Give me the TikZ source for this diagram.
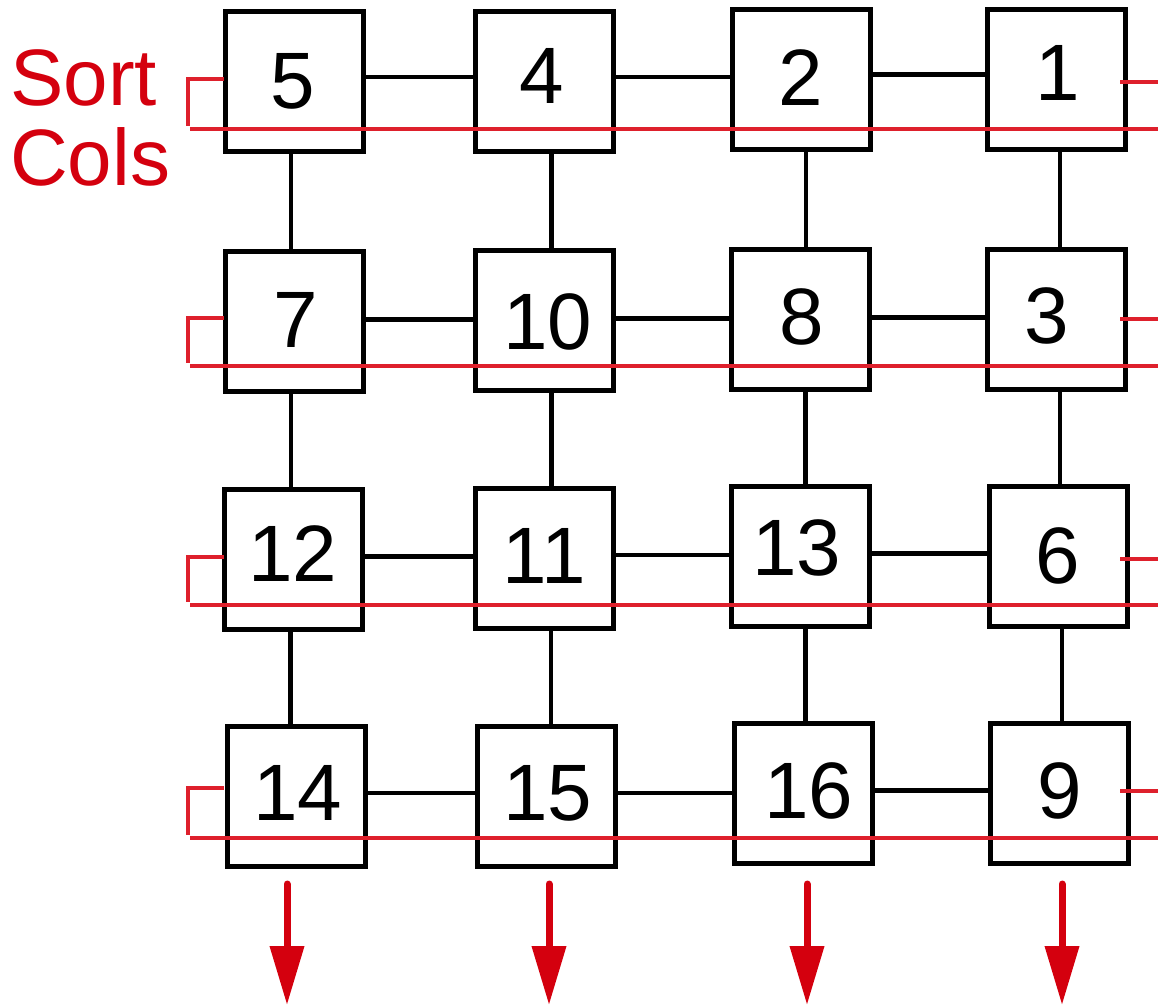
\documentclass[tikz,border=0pt]{standalone}
\usepackage{fontspec}
\setmainfont{Liberation Sans}
\usetikzlibrary{arrows.meta}
\definecolor{txtred}{RGB}{212,0,14}
\definecolor{wirered}{RGB}{222,32,44}
\begin{document}
\begin{tikzpicture}[x=1pt,y=-1pt,
  cell/.style={draw=black, line width=5pt, minimum width=138pt, minimum height=140pt, inner sep=0pt},
  num/.style={inner sep=0pt, font=\fontsize{80}{80}\selectfont},
  link/.style={draw=black, line width=4.5pt},
  snake/.style={draw=wirered, line width=3.3pt},
  outarrow/.style={draw=txtred, line width=7pt, line cap=round, -{Triangle[width=33pt,length=59pt]}},
  lbl/.style={inner sep=0pt, anchor=base west, text=txtred, font=\fontsize{80}{80}\selectfont}]
\useasboundingbox (0,0) rectangle (1158,1007);

% boxes
\node[cell] (b11) at (294,81.5) {};
\node[cell] (b12) at (544.5,81.5) {};
\node[cell] (b13) at (801,79) {};
\node[cell] (b14) at (1056,79.5) {};
\node[cell] (b21) at (294,321.5) {};
\node[cell] (b22) at (544.5,320.5) {};
\node[cell] (b23) at (800.5,319.5) {};
\node[cell] (b24) at (1056,319) {};
\node[cell] (b31) at (293.5,559.5) {};
\node[cell] (b32) at (544,558) {};
\node[cell] (b33) at (800.5,556.5) {};
\node[cell] (b34) at (1058,556) {};
\node[cell] (b41) at (296.5,796) {};
\node[cell] (b42) at (546,796) {};
\node[cell] (b43) at (803.5,793.5) {};
\node[cell] (b44) at (1059.5,793.5) {};

% numbers
\node[num] (t11) at (292.5,81.5) {5};
\node[num] (t12) at (541.5,76) {4};
\node[num] (t13) at (801,78) {2};
\node[num] (t14) at (1058,73) {1};
\node[num] (t21) at (296,320) {7};
\node[num] (t22) at (548,322) {10};
\node[num] (t23) at (802,317) {8};
\node[num] (t24) at (1047,316) {3};
\node[num] (t31) at (292.5,553.5) {12};
\node[num] (t32) at (544,556) {11};
\node[num] (t33) at (797,548) {13};
\node[num] (t34) at (1058,556) {6};
\node[num] (t41) at (297.5,793) {14};
\node[num] (t42) at (548,793) {15};
\node[num] (t43) at (809,791) {16};
\node[num] (t44) at (1060,791) {9};

% horizontal links
\foreach \r/\s in {1/4.5,2/2,3/3,4/3}{
  \draw[link] ([yshift=\s pt]b\r1.east) -- ([yshift=\s pt]b\r1.east -| b\r2.west);
  \draw[link] ([yshift=\s pt]b\r2.east) -- ([yshift=\s pt]b\r2.east -| b\r3.west);
  \draw[link] ([yshift=\s pt]b\r3.east) -- ([yshift=\s pt]b\r3.east -| b\r4.west);
}
% vertical links
\foreach \c/\s in {1/-3,2/7,3/5,4/4}{
  \draw[link] ([xshift=\s pt]b1\c.south) -- ([xshift=\s pt]b1\c.south |- b2\c.north);
  \draw[link] ([xshift=\s pt]b2\c.south) -- ([xshift=\s pt]b2\c.south |- b3\c.north);
  \draw[link] ([xshift=\s pt]b3\c.south) -- ([xshift=\s pt]b3\c.south |- b4\c.north);
}

% red snake wiring
\foreach \top/\low/\rt [count=\i] in {79/129/82, 318/366/319, 557/605/559, 788/838/791}{
  \coordinate (lt\i) at (224,\top);
  \coordinate (lc\i) at (188,\top);
  \coordinate (lb\i) at (188,\low-3);
  \coordinate (ls\i) at (190,\low);
  \coordinate (le\i) at (1158,\low);
  \coordinate (rs\i) at (1120,\rt);
  \coordinate (re\i) at (1158,\rt);
  \draw[snake] (lt\i) -- (lc\i) -- (lb\i);
  \draw[snake] (ls\i) -- (le\i);
  \draw[snake] (rs\i) -- (re\i);
}

% label
\node[lbl] (sort) at (10,105) {Sort};
\node[lbl] (cols) at (10,185) {Cols};

% output arrows
\foreach \x [count=\i] in {287,549,807,1062}{
  \coordinate (as\i) at (\x,884);
  \coordinate (ae\i) at (\x,1005);
  \draw[outarrow] (as\i) -- (ae\i);
}
\end{tikzpicture}
\end{document}
